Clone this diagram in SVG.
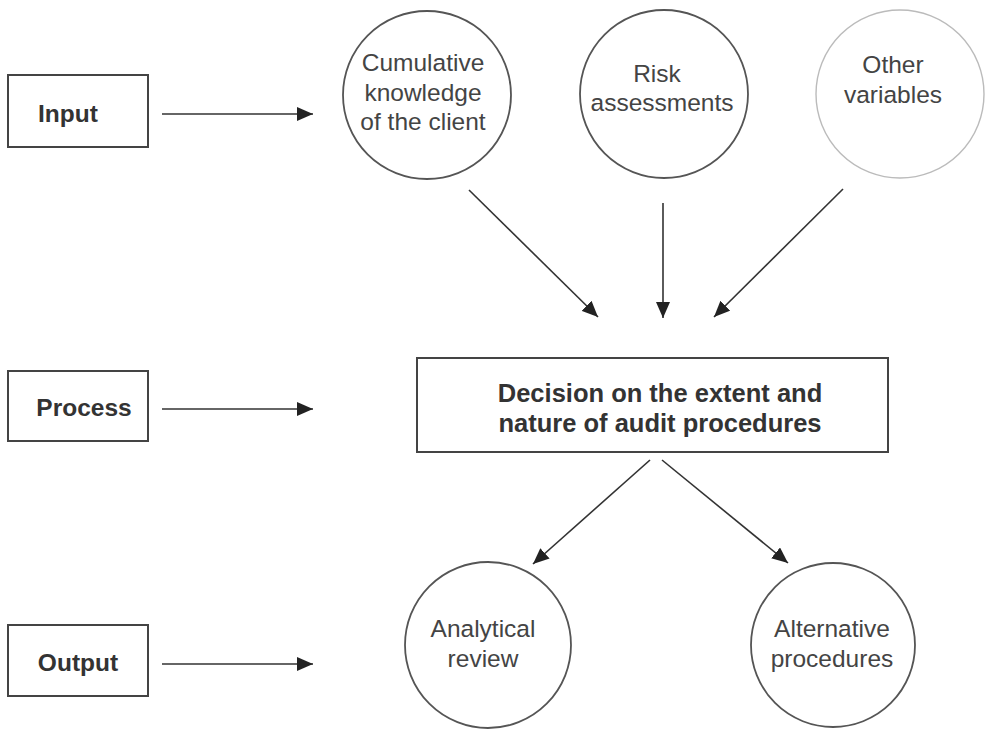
<svg xmlns="http://www.w3.org/2000/svg" width="989" height="729" viewBox="0 0 989 729">
  <defs>
    <marker id="arrow" viewBox="0 0 16 14" refX="16" refY="7" markerWidth="16" markerHeight="14" markerUnits="userSpaceOnUse" orient="auto">
      <path d="M0,0 L16,7 L0,14 z" fill="#222"/>
    </marker>
    <style>
      .box { fill: #fff; stroke: #444; stroke-width: 2; }
      .circle { fill: #fff; stroke: #555; stroke-width: 1.8; }
      .circle.faint { stroke: #bbb; stroke-width: 1.4; }
      .label { font-family: "Liberation Sans", Arial, sans-serif; font-weight: bold; font-size: 24.5px; fill: #333; text-anchor: middle; }
      .ctext { font-family: "Liberation Sans", Arial, sans-serif; font-size: 24.5px; fill: #444; text-anchor: middle; }
      .conn { stroke: #333; stroke-width: 1.6; fill: none; marker-end: url(#arrow); }
    </style>
  </defs>
  <rect width="989" height="729" fill="#fff"/>

  <!-- stage labels -->
  <g id="input">
    <rect class="box" x="8" y="75" width="140" height="72"/>
    <text class="label" x="68" y="122">Input</text>
  </g>
  <g id="process">
    <rect class="box" x="8" y="371" width="140" height="70"/>
    <text class="label" x="84" y="416">Process</text>
  </g>
  <g id="output">
    <rect class="box" x="8" y="625" width="140" height="71"/>
    <text class="label" x="78" y="671">Output</text>
  </g>

  <!-- inputs -->
  <g id="cumulative-knowledge">
    <circle class="circle" cx="427" cy="95" r="84"/>
    <text class="ctext" x="423" y="71">Cumulative</text>
    <text class="ctext" x="423" y="101">knowledge</text>
    <text class="ctext" x="423" y="130">of the client</text>
  </g>
  <g id="risk-assessments">
    <circle class="circle" cx="664" cy="94" r="84"/>
    <text class="ctext" x="657" y="82">Risk</text>
    <text class="ctext" x="662" y="111">assessments</text>
  </g>
  <g id="other-variables">
    <circle class="circle faint" cx="900" cy="94" r="84"/>
    <text class="ctext" x="893" y="73">Other</text>
    <text class="ctext" x="893" y="103">variables</text>
  </g>

  <!-- process -->
  <g id="decision">
    <rect class="box" x="417" y="358" width="471" height="94"/>
    <text class="label" x="660" y="402" style="font-size:25.5px">Decision on the extent and</text>
    <text class="label" x="660" y="432" style="font-size:25.5px">nature of audit procedures</text>
  </g>

  <!-- outputs -->
  <g id="analytical-review">
    <circle class="circle" cx="488" cy="645" r="83"/>
    <text class="ctext" x="483" y="637">Analytical</text>
    <text class="ctext" x="483" y="667">review</text>
  </g>
  <g id="alternative-procedures">
    <circle class="circle" cx="833" cy="645" r="82"/>
    <text class="ctext" x="832" y="637">Alternative</text>
    <text class="ctext" x="832" y="667">procedures</text>
  </g>

  <!-- connectors -->
  <g id="connectors">
    <line class="conn" x1="162" y1="114" x2="313" y2="114"/>
    <line class="conn" x1="162" y1="409" x2="313" y2="409"/>
    <line class="conn" x1="162" y1="664" x2="313" y2="664"/>
    <line class="conn" x1="469" y1="190" x2="598" y2="317"/>
    <line class="conn" x1="663" y1="203" x2="663" y2="318"/>
    <line class="conn" x1="843" y1="189" x2="714" y2="317"/>
    <line class="conn" x1="650" y1="460" x2="533" y2="564"/>
    <line class="conn" x1="662" y1="460" x2="788" y2="563"/>
  </g>
</svg>
